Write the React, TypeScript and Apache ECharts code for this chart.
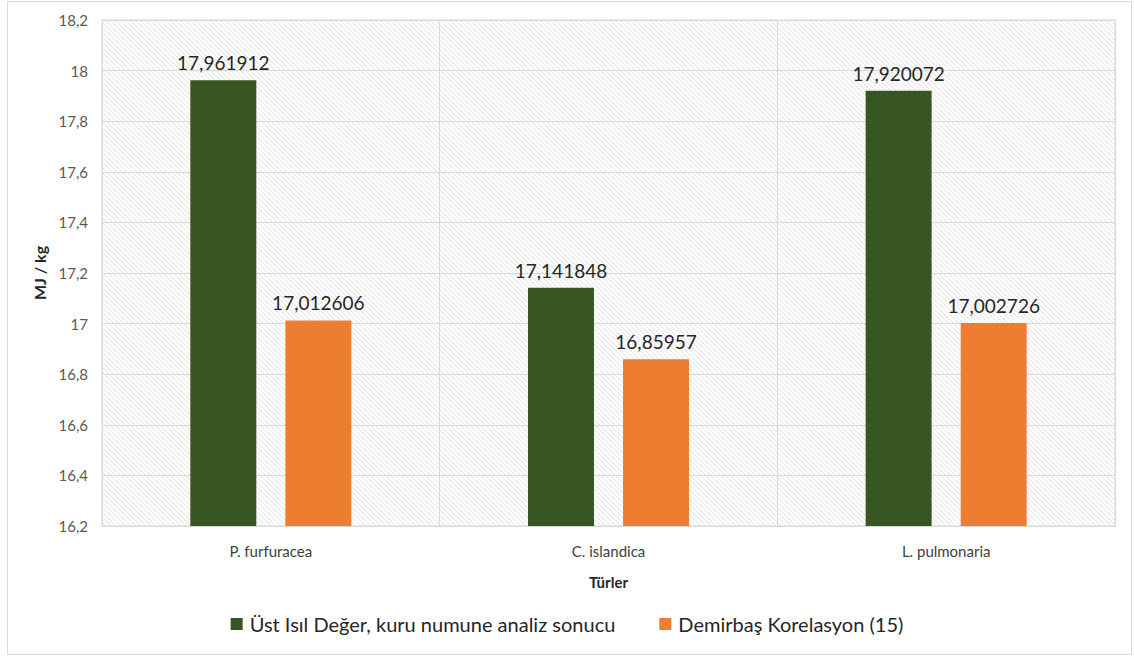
import React, { useEffect, useRef } from "react";
import * as echarts from "echarts";

const categories = ["P. furfuracea", "C. islandica", "L. pulmonaria"];
const measuredValues = [17.961912, 17.141848, 17.920072];
const correlationValues = [17.012606, 16.85957, 17.002726];
const seriesNames = [
  "Üst Isıl Değer, kuru numune analiz sonucu",
  "Demirbaş Korelasyon (15)",
];
const yMin = 16.2;
const yMax = 18.2;
const yStep = 0.2;
const xAxisTitle = "Türler";
const yAxisTitle = "MJ / kg";

const FONT = "Lato, 'Open Sans', sans-serif";

function makeHatch(): string {
  const size = 5;
  const c = document.createElement("canvas");
  c.width = size;
  c.height = size;
  const ctx = c.getContext("2d")!;
  ctx.fillStyle = "#ffffff";
  ctx.fillRect(0, 0, size, size);
  ctx.fillStyle = "#e2e2e2";
  for (let i = 0; i < size; i++) ctx.fillRect(i, i, 1, 1);
  return c.toDataURL();
}

const fmt = (v: number) => String(v).replace(".", ",");

export default function App() {
  const ref = useRef<HTMLDivElement>(null);
  useEffect(() => {
    if (!ref.current) return;
    const chart = echarts.init(ref.current, undefined, { renderer: "svg" });
    const hatch = makeHatch();
    chart.setOption({
      animation: false,
      backgroundColor: "#ffffff",
      textStyle: { fontFamily: FONT },
      graphic: [
        {
          type: "rect",
          shape: { x: 7.5, y: 1.5, width: 1124, height: 653 },
          style: { fill: "none", stroke: "#d9d9d9", lineWidth: 1 },
          silent: true,
          z: -10,
        },
      ],
      grid: {
        left: 102,
        right: 19,
        top: 20,
        bottom: 131,
        show: true,
        backgroundColor: { image: hatch, repeat: "repeat" },
        borderColor: "#d9d9d9",
        borderWidth: 1,
      },
      legend: {
        bottom: 18,
        left: "center",
        itemWidth: 12,
        itemHeight: 12,
        itemGap: 44,
        icon: "rect",
        textStyle: { fontSize: 20, color: "#262626", fontFamily: FONT, padding: [0, 0, 0, 2] },
        data: seriesNames,
      },
      xAxis: {
        type: "category",
        data: categories,
        name: xAxisTitle,
        nameLocation: "middle",
        nameGap: 48,
        nameTextStyle: { fontSize: 15, fontWeight: "bold", color: "#262626" },
        axisLine: { show: true, lineStyle: { color: "#d9d9d9" } },
        axisTick: { show: false },
        axisLabel: { fontSize: 15, color: "#404040", margin: 17 },
        splitLine: { show: true, lineStyle: { color: "#d9d9d9" } },
      },
      yAxis: {
        type: "value",
        min: yMin,
        max: yMax,
        interval: yStep,
        name: yAxisTitle,
        nameLocation: "middle",
        nameGap: 52,
        nameRotate: 90,
        nameTextStyle: { fontSize: 16, fontWeight: "bold", color: "#262626" },
        axisLine: { show: false },
        axisTick: { show: false },
        axisLabel: {
          fontSize: 15,
          color: "#595959",
          margin: 14,
          formatter: (v: number) => fmt(Number(v.toFixed(1))),
        },
        splitLine: { show: true, lineStyle: { color: "#d9d9d9" } },
      },
      series: [
        {
          name: seriesNames[0],
          type: "bar",
          data: measuredValues,
          barWidth: 66,
          barGap: "44%",
          itemStyle: { color: "#375623" },
          label: {
            show: true,
            position: "top",
            distance: 8,
            fontSize: 19,
            color: "#262626",
            formatter: (p: any) => fmt(p.value),
          },
        },
        {
          name: seriesNames[1],
          type: "bar",
          data: correlationValues,
          barWidth: 66,
          barGap: "44%",
          itemStyle: { color: "#ed7d31" },
          label: {
            show: true,
            position: "top",
            distance: 8,
            fontSize: 19,
            color: "#262626",
            formatter: (p: any) => fmt(p.value),
          },
        },
      ],
    });
    return () => chart.dispose();
  }, []);
  return (
    <div
      ref={ref}
      style={{ position: "absolute", left: 0, top: 0, width: 1134, height: 657 }}
    />
  );
}
